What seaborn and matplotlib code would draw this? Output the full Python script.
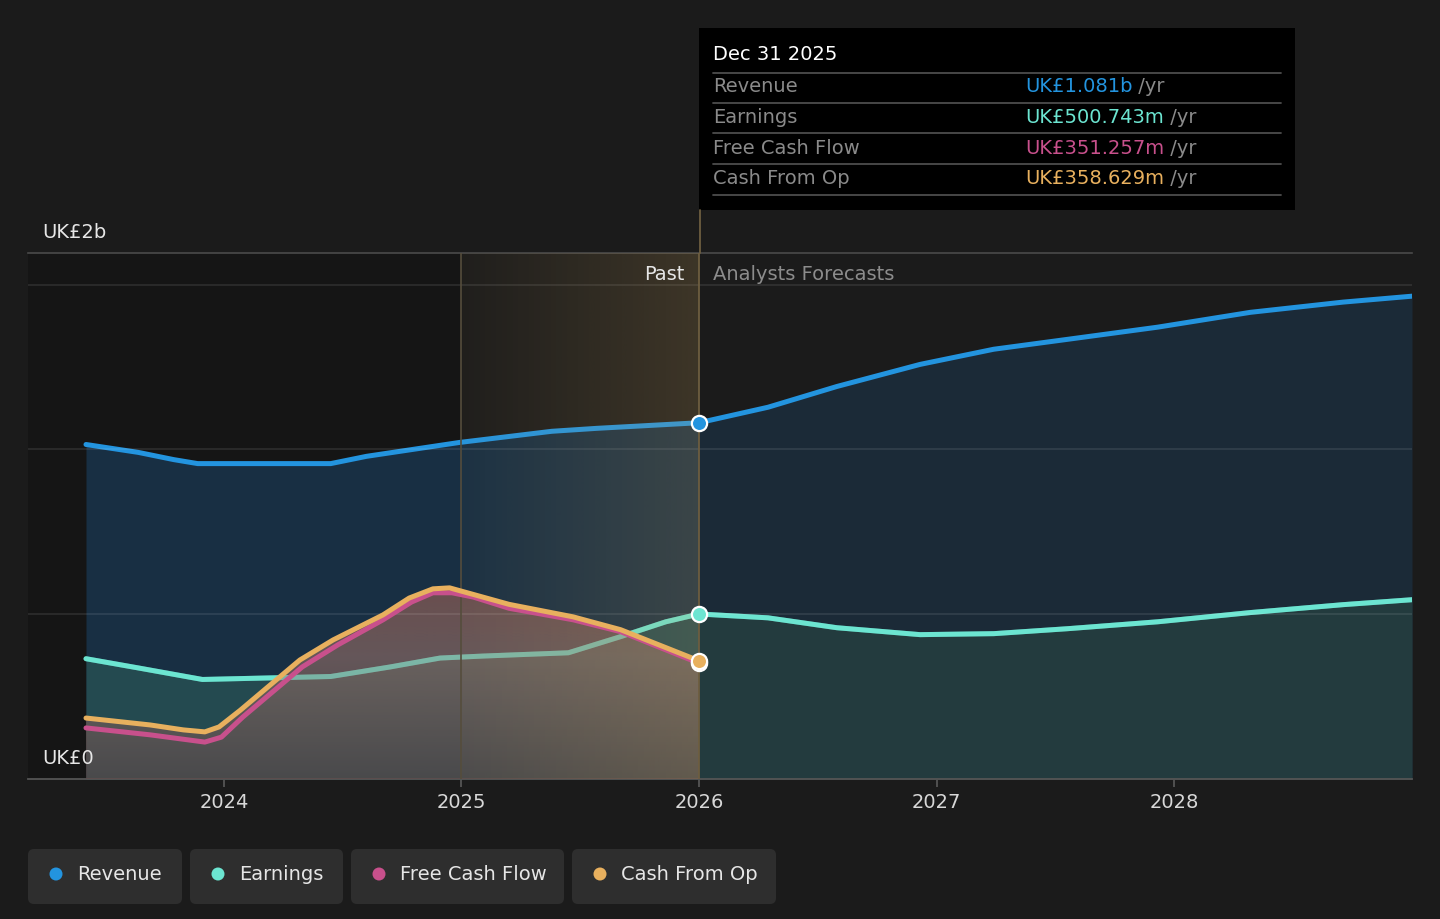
"""Revenue / earnings / cash flow history and forecast chart (dark theme)"""

import matplotlib.pyplot as plt
import numpy as np
import seaborn as sns
from matplotlib.patches import Circle, FancyBboxPatch, Rectangle

# values in UK£ billions, x as fractional years
rev_years = [2023.42, 2023.64, 2023.79, 2023.89, 2024.45, 2024.60, 2024.99, 2025.38,
             2025.57, 2026.0, 2026.29, 2026.58, 2026.93, 2027.24, 2027.55, 2027.93,
             2028.32, 2028.71, 2029.0]
rev_vals = [1.015, 0.991, 0.969, 0.957, 0.957, 0.979, 1.021, 1.055,
            1.064, 1.081, 1.128, 1.191, 1.258, 1.304, 1.334, 1.371,
            1.416, 1.447, 1.465]

earn_years = [2023.42, 2023.64, 2023.91, 2024.21, 2024.45, 2024.70, 2024.91, 2025.09,
              2025.45, 2025.67, 2025.86, 2026.0, 2026.29, 2026.58, 2026.93, 2027.24,
              2027.55, 2027.93, 2028.32, 2028.71, 2029.0]
earn_vals = [0.365, 0.337, 0.302, 0.307, 0.311, 0.340, 0.367, 0.373,
             0.383, 0.432, 0.477, 0.5007, 0.489, 0.459, 0.438, 0.441,
             0.456, 0.477, 0.505, 0.529, 0.544]

fcf_years = [2023.42, 2023.69, 2023.92, 2023.99, 2024.08, 2024.19, 2024.33, 2024.48,
             2024.67, 2024.79, 2024.88, 2024.96, 2025.05, 2025.20, 2025.47, 2025.67,
             2026.0]
fcf_vals = [0.155, 0.134, 0.112, 0.127, 0.188, 0.255, 0.340, 0.407,
            0.483, 0.537, 0.565, 0.565, 0.552, 0.518, 0.483, 0.447,
            0.3513]

cash_years = [2023.42, 2023.69, 2023.83, 2023.92, 2023.98, 2024.07, 2024.18, 2024.32,
              2024.46, 2024.67, 2024.78, 2024.88, 2024.95, 2025.03, 2025.20, 2025.47,
              2025.67, 2026.0]
cash_vals = [0.185, 0.164, 0.149, 0.143, 0.158, 0.209, 0.276, 0.361,
             0.422, 0.498, 0.549, 0.577, 0.580, 0.564, 0.530, 0.492,
             0.453, 0.3586]

year_ticks = [2024, 2025, 2026, 2027, 2028]
series_names = ["Revenue", "Earnings", "Free Cash Flow", "Cash From Op"]
tooltip_values = ["UK£1.081b", "UK£500.743m", "UK£351.257m", "UK£358.629m"]

BG = "#1b1b1b"
REV = "#2394df"
EARN = "#6ce5d1"
FCF = "#c8508c"
CASH = "#e8b05e"
colors = [REV, EARN, FCF, CASH]
FS = 14

NOW = 2026.0
PAST_START = 2025.0
X0, X1 = 2023.176, 2029.0
YMAX = 1.596

sns.set_style("dark", {"axes.facecolor": BG, "figure.facecolor": BG})
plt.rcParams["font.family"] = ["DejaVu Sans"]

fig = plt.figure(figsize=(14.4, 9.19), dpi=100)
ax = fig.add_axes([28 / 1440, 140 / 919, 1384 / 1440, 526 / 919])

# darker band for the older history
ax.axvspan(X0, PAST_START, color="#151515", lw=0, zorder=0.5)

# area fills, past and forecast shaded differently
i_rev = rev_years.index(NOW)
i_earn = earn_years.index(NOW)
ax.fill_between(rev_years[: i_rev + 1], rev_vals[: i_rev + 1], 0, color="#182f43", lw=0, zorder=1)
ax.fill_between(rev_years[i_rev:], rev_vals[i_rev:], 0, color="#1b2a37", lw=0, zorder=1)
ax.fill_between(earn_years[: i_earn + 1], earn_vals[: i_earn + 1], 0, color="#244a50", lw=0, zorder=2)
ax.fill_between(earn_years[i_earn:], earn_vals[i_earn:], 0, color="#233b3e", lw=0, zorder=2)

sns.lineplot(x=rev_years, y=rev_vals, color=REV, lw=3.6, ax=ax, zorder=3)
sns.lineplot(x=earn_years, y=earn_vals, color=EARN, lw=3.6, ax=ax, zorder=3)

# cash flow area with a vertical gradient, clipped to the area under the cash curve
poly = ax.fill_between(cash_years, cash_vals, 0, color="none", lw=0)
top = max(cash_vals)
lev = np.linspace(0, top, 256)
stops_v = [0, 0.37, 0.58]
stops_c = np.array([[99, 74, 73], [153, 114, 105], [162, 100, 87]]) / 255
img = np.zeros((256, 1, 4))
for k in range(3):
    img[:, 0, k] = np.interp(lev, stops_v, stops_c[:, k])
img[:, 0, 3] = 0.6
grad = ax.imshow(img, extent=[cash_years[0], cash_years[-1], 0, top], origin="lower",
                 aspect="auto", interpolation="bilinear", zorder=4)
grad.set_clip_path(poly.get_paths()[0], ax.transData)

# earnings line shows faintly through the cash flow area
sns.lineplot(x=earn_years, y=earn_vals, color=EARN, lw=3.6, alpha=0.35, ax=ax, zorder=4.2)

# grid
for g in [0.5, 1.0, 1.5]:
    ax.axhline(g, color="white", alpha=0.1, lw=1.2, zorder=4.5)

# highlight of the last year of history
hl = np.zeros((1, 256, 4))
hl[0, :, 0] = 200 / 255
hl[0, :, 1] = 160 / 255
hl[0, :, 2] = 90 / 255
hl[0, :, 3] = np.linspace(0.03, 0.2, 256)
ax.imshow(hl, extent=[PAST_START, NOW, 0, YMAX], origin="lower", aspect="auto",
          interpolation="bilinear", zorder=5)
ax.axvline(PAST_START, color="#554d3c", lw=1.2, zorder=5.5)
ax.axvline(NOW, color="#6e5e40", lw=1.3, zorder=5.5)

sns.lineplot(x=fcf_years, y=fcf_vals, color=FCF, lw=3.6, ax=ax, zorder=6)
sns.lineplot(x=cash_years, y=cash_vals, color=CASH, lw=3.6, ax=ax, zorder=6.5)

# markers at the tooltip date
for xs, ys, c in [(rev_years, rev_vals, REV), (earn_years, earn_vals, EARN),
                  (fcf_years, fcf_vals, FCF), (cash_years, cash_vals, CASH)]:
    j = xs.index(NOW)
    ax.scatter([xs[j]], [ys[j]], s=120, color=c, edgecolor="white", linewidth=1.6, zorder=8)

ax.set_xlim(X0, X1)
ax.set_ylim(0, YMAX)
ax.set_xticks(year_ticks)
ax.set_xticklabels([str(y) for y in year_ticks])
ax.set_yticks([])
ax.tick_params(axis="x", colors="#5a5a5a", labelcolor="#d8d8d8", labelsize=FS,
               length=6, width=1.2, direction="out", pad=4, bottom=True)
ax.set_xlabel("")
ax.set_ylabel("")
for side in ["left", "right"]:
    ax.spines[side].set_visible(False)
ax.spines["bottom"].set_color("#555555")
ax.spines["bottom"].set_linewidth(1.3)
ax.spines["top"].set_color("#4a4a4a")
ax.spines["top"].set_linewidth(1.2)
ax.grid(False)

# overlay in pixel coordinates for labels, tooltip and legend
ov = fig.add_axes([0, 0, 1, 1], zorder=10)
ov.set_xlim(0, 1440)
ov.set_ylim(919, 0)
ov.axis("off")
ov.patch.set_alpha(0)

ov.text(42, 232, "UK£2b", color="#e6e6e6", fontsize=FS, va="center")
ov.text(42, 758, "UK£0", color="#e6e6e6", fontsize=FS, va="center")
ov.text(685, 274, "Past", color="#e6e6e6", fontsize=FS, va="center", ha="right")
ov.text(713, 274, "Analysts Forecasts", color="#8c8c8c", fontsize=FS, va="center")
ov.plot([700, 700], [210, 253], color="#6e5e40", lw=1.3)

# tooltip
ov.add_patch(Rectangle((699, 28), 596, 182, color="black", lw=0))
ov.text(713, 55, "Dec 31 2025", color="white", fontsize=FS, va="center")
for yl in [72.5, 102.5, 133, 163.5, 195]:
    ov.plot([713, 1281], [yl, yl], color="#4d4d4d", lw=1.3)
for k, (name, val, c) in enumerate(zip(series_names, tooltip_values, colors)):
    yc = 87 + k * 30.5
    ov.text(713, yc, name, color="#8a8a8a", fontsize=FS, va="center")
    t = ov.text(1025, yc, val, color=c, fontsize=FS, va="center")
    ov.annotate(" /yr", xy=(1, 0.5), xycoords=t, color="#8a8a8a", fontsize=FS,
                va="center", ha="left")

# legend chips
chips = [(28, 154), (190, 153), (351, 213), (572, 204)]
for (x, w), name, c in zip(chips, series_names, colors):
    ov.add_patch(FancyBboxPatch((x, 849), w, 55, boxstyle="round,pad=0,rounding_size=6",
                                color="#2e2e2e", lw=0))
    ov.add_patch(Circle((x + 28, 874), 6.5, color=c, lw=0))
    ov.text(x + 49, 874.5, name, color="#e6e6e6", fontsize=FS, va="center")

fig.savefig("out.png", dpi=100, facecolor=BG)
